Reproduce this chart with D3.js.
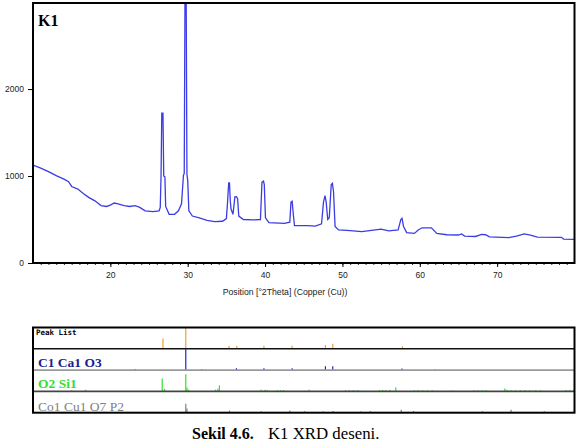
<!DOCTYPE html>
<html>
<head>
<meta charset="utf-8">
<script src="https://cdn.jsdelivr.net/npm/d3@7"></script>
<style>
  body { margin: 0; background: #fff; }
  svg { display: block; }
  .tick text { font-family: "Liberation Sans", Arial, sans-serif; font-size: 8.5px; fill: #222; }
</style>
</head>
<body>
<svg id="chart" width="583" height="444"></svg>
<script>
// XRD profile K1: [2theta, counts]
const theta = [10.0, 11.0, 12.0, 13.0, 14.0, 14.6, 15.0, 15.8, 16.5, 17.2, 18.0, 18.8, 19.5, 20.0, 20.5, 21.0, 21.8, 22.5, 23.2, 23.8, 24.5, 25.5, 26.3,
  26.45, 26.55, 26.65, 26.8, 26.9, 27.05, 27.15, 27.6, 28.3, 28.8, 29.2,
  29.45, 29.55, 29.65, 29.8, 29.9, 30.0, 30.15, 30.6, 31.5, 32.5, 33.5, 34.5, 35.0,
  35.15, 35.3, 35.4, 35.5, 35.6, 35.85, 36.1, 36.3, 36.45, 36.6, 37.2, 38.5, 39.4,
  39.6, 39.8, 39.9, 40.05, 40.5, 42.5, 43.2, 43.35, 43.5, 43.65, 43.8, 45.5, 46.5, 47.3,
  47.55, 47.75, 47.9, 48.1, 48.3, 48.55, 48.7, 48.85, 49.05, 49.5, 51.0, 52.5, 53.5, 55.0, 56.0, 57.2,
  57.55, 57.7, 57.9, 58.3, 59.3, 59.8, 60.3, 61.5, 62.2, 63.5, 65.0, 65.4, 65.8, 67.2, 68.0, 68.5, 69.0,
  71.5, 72.5, 73.5, 74.3, 75.2, 78.3, 78.6, 80.0];
const counts = [1126, 1090, 1050, 1005, 965, 935, 880, 850, 800, 755, 715, 660, 650, 665, 690, 680, 660, 650, 660, 640, 600, 590, 600,
  640, 990, 1724, 1724, 1000, 990, 650, 560, 560, 600, 680,
  1010, 1030, 3100, 3100, 1020, 950, 600, 540, 520, 490, 475, 480, 510,
  700, 920, 920, 720, 620, 560, 760, 762, 740, 540, 500, 495, 500,
  930, 942, 900, 520, 465, 455, 470, 700, 710, 560, 430, 430, 425, 450,
  700, 774, 700, 500, 520, 900, 916, 820, 420, 380, 372, 360, 372, 390, 370, 380,
  500, 514, 420, 350, 340, 380, 405, 405, 340, 325, 322, 335, 310, 305, 330, 325, 300,
  292, 310, 335, 320, 297, 295, 275, 272];

const xTicks = [20, 30, 40, 50, 60, 70];
const yTicks = [0, 1000, 2000];

// stick patterns (position 2theta, relative height % of row)
const peakListPos = [26.8, 29.75, 35.35, 36.35, 39.85, 43.5, 47.8, 48.75, 57.75];
const peakListRel = [48, 100, 14, 14, 14, 14, 18, 24, 12];
const calcitePos = [23.2, 29.75, 31.8, 36.3, 39.85, 43.5, 47.8, 48.75, 57.7, 62.0];
const calciteRel = [5, 100, 4, 9, 9, 9, 18, 18, 8, 3];
const silicaPos = [15.0, 16.8, 26.7, 27.0, 29.75, 29.9, 30.1, 33.6, 33.9, 34.1, 39.5, 40.0, 40.3, 41.6, 42.0, 42.4, 45.7,
  50.4, 50.9, 51.4, 52.0, 54.8, 55.2, 55.6, 56.1, 56.9, 59.3, 59.8, 60.4, 61.0, 61.6, 64.2, 67.0, 67.5, 68.1, 68.6,
  71.0, 71.3, 71.8, 72.4, 73.0, 73.6, 74.2, 75.0, 75.6, 78.9, 79.4, 79.9];
const silicaRel = [5, 8, 60, 12, 80, 18, 8, 8, 12, 28, 8, 8, 6, 6, 6, 6, 8,
  6, 6, 6, 6, 6, 6, 6, 6, 18, 5, 5, 5, 5, 5, 4, 5, 5, 5, 5,
  14, 8, 5, 5, 5, 5, 5, 5, 5, 6, 6, 6];
const cuPos = [29.75, 29.9, 35.4, 39.5, 43.2, 45.1, 47.5, 48.8, 52.4, 53.6, 57.6, 59.2, 68.1, 71.8, 76.1];
const cuRel = [42, 20, 10, 7, 10, 7, 7, 8, 7, 8, 14, 8, 7, 14, 7];

const rowNames = ["Peak List", "C1 Ca1 O3", "O2 Si1", "Co1 Cu1 O7 P2"];
const rowColors = ["#f0a030", "#2020d0", "#30e030", "#808080"];

const svg = d3.select("#chart");
const plotL = 33, plotR = 574.5, plotT = 3, plotB = 263;

const x = d3.scaleLinear().domain([10, 80]).range([plotL, plotR]);
const y = d3.scaleLinear().domain([0, 2990]).range([plotB, plotT]);

// --- main plot ---
svg.append("clipPath").attr("id", "clip")
  .append("rect").attr("x", plotL).attr("y", plotT).attr("width", plotR - plotL).attr("height", plotB - plotT);

const pts = theta.map((t, i) => [t, counts[i]]);
svg.append("path")
  .datum(pts)
  .attr("clip-path", "url(#clip)")
  .attr("fill", "none")
  .attr("stroke", "#3c3ce4")
  .attr("stroke-width", 1.3)
  .attr("d", d3.line().x(d => x(d[0])).y(d => y(d[1])));

// minor x ticks
svg.append("g")
  .attr("transform", `translate(0,${plotB})`)
  .call(d3.axisBottom(x).tickValues(d3.range(11, 80)).tickSize(2).tickFormat(""))
  .call(g => g.select(".domain").remove())
  .selectAll("line").attr("stroke", "#333");

svg.append("g")
  .attr("transform", `translate(0,${plotB})`)
  .call(d3.axisBottom(x).tickValues(xTicks).tickSize(4).tickPadding(5))
  .call(g => g.select(".domain").remove());

svg.append("g")
  .attr("transform", `translate(${plotL},0)`)
  .call(d3.axisLeft(y).tickValues(yTicks).tickSize(5).tickPadding(4).tickFormat(d3.format("d")))
  .call(g => g.select(".domain").remove());

svg.append("rect")
  .attr("x", plotL).attr("y", plotT)
  .attr("width", plotR - plotL).attr("height", plotB - plotT)
  .attr("fill", "none").attr("stroke", "#000").attr("stroke-width", 2);

svg.append("text")
  .attr("x", 38).attr("y", 26)
  .attr("font-family", "Liberation Serif, serif")
  .attr("font-weight", "bold").attr("font-size", 16)
  .text("K1");

svg.append("text")
  .attr("x", 285).attr("y", 295)
  .attr("text-anchor", "middle")
  .attr("font-family", "Liberation Sans, Arial, sans-serif")
  .attr("font-size", 8.7).attr("fill", "#222")
  .text("Position [°2Theta] (Copper (Cu))");

// --- stick panel ---
const pTop = 327.5, rowH = 21.3;
const sticks = [
  [peakListPos, peakListRel],
  [calcitePos, calciteRel],
  [silicaPos, silicaRel],
  [cuPos, cuRel]
];
const baseColors = ["#111", "#999", "#444", "#000"];

sticks.forEach((s, r) => {
  const base = pTop + rowH * (r + 1);
  const g = svg.append("g");
  g.selectAll("line")
    .data(s[0].map((p, i) => [p, s[1][i]]))
    .enter().append("line")
    .attr("x1", d => x(d[0])).attr("x2", d => x(d[0]))
    .attr("y1", base).attr("y2", d => base - d[1] / 100 * rowH)
    .attr("stroke", rowColors[r]).attr("stroke-width", 1.2);
  if (r < 3) {
    svg.append("line")
      .attr("x1", plotL).attr("x2", plotR)
      .attr("y1", base).attr("y2", base)
      .attr("stroke", baseColors[r]).attr("stroke-width", 1.6);
  }
});

svg.append("rect")
  .attr("x", plotL).attr("y", pTop)
  .attr("width", plotR - plotL).attr("height", rowH * 4)
  .attr("fill", "none").attr("stroke", "#000").attr("stroke-width", 2);

svg.append("text")
  .attr("x", 36).attr("y", 335)
  .attr("font-family", "DejaVu Sans Mono, monospace")
  .attr("font-weight", "bold").attr("font-size", 7.5)
  .text(rowNames[0]);

const labelStyle = [
  { y: 367, fill: "#1c1c8c", weight: "bold" },
  { y: 388, fill: "#33dd33", weight: "bold" },
  { y: 411, fill: "#808080", weight: "normal" }
];
labelStyle.forEach((st, i) => {
  svg.append("text")
    .attr("x", 38).attr("y", st.y)
    .attr("font-family", "Liberation Serif, serif")
    .attr("font-weight", st.weight).attr("font-size", 13.5)
    .attr("fill", st.fill)
    .text(rowNames[i + 1]);
});

// caption
const capFont = "Liberation Serif, serif";
svg.append("text")
  .attr("x", 192).attr("y", 439)
  .attr("font-family", capFont).attr("font-weight", "bold").attr("font-size", 16)
  .text("Sekil 4.6.");
svg.append("text")
  .attr("x", 268).attr("y", 439)
  .attr("font-family", capFont).attr("font-size", 16.8)
  .text("K1 XRD deseni.");
</script>
</body>
</html>
